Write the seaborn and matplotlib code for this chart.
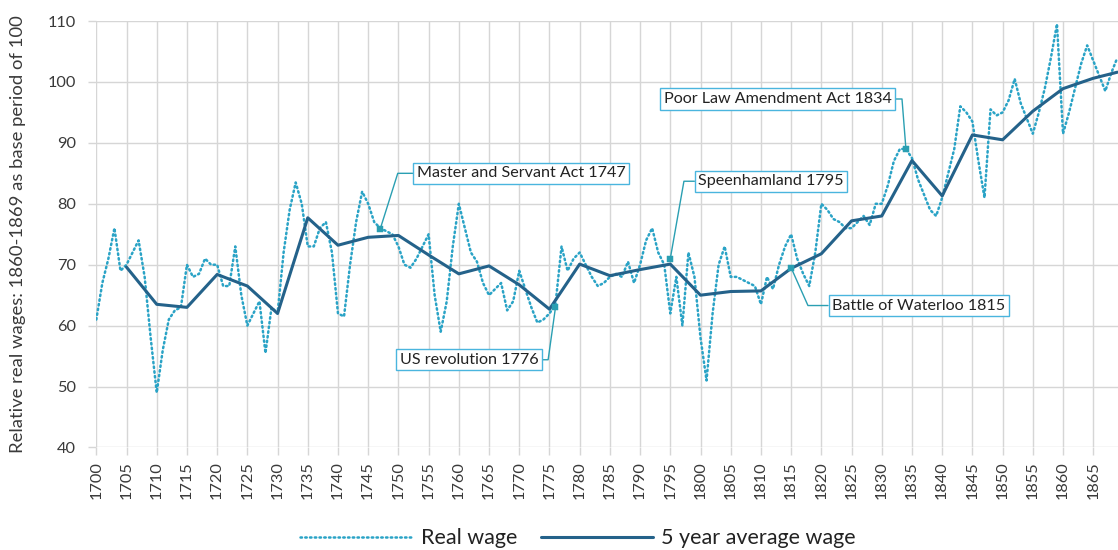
import matplotlib
matplotlib.use('Agg')
import matplotlib.pyplot as plt
import seaborn as sns
import pandas as pd

# annual real wage index, 1700-1869
years = list(range(1700, 1870))
real_wage = [
    61, 67, 71, 76, 69, 70, 72, 74, 68, 58,            # 1700s
    49, 56, 61, 62.5, 63, 70, 68, 68.5, 71, 70,        # 1710s
    70, 66.5, 66.5, 73, 65, 60, 62, 64, 55.5, 63,      # 1720s
    62, 72, 79, 83.5, 80, 73, 73, 76, 77, 72,          # 1730s
    62, 61.5, 70, 77, 82, 80, 77, 76, 75.5, 75,        # 1740s
    73, 70, 69.5, 71, 73, 75, 65, 59, 64, 73,          # 1750s
    80, 76, 72, 70.5, 67, 65, 66, 67, 62.5, 64,        # 1760s
    69, 66, 63, 60.5, 61, 62, 63.5, 73, 69, 71,        # 1770s
    72, 70, 68, 66.5, 67, 68, 68.5, 68, 70.5, 67,      # 1780s
    70, 74, 76, 72, 70, 62, 68, 60, 72, 68,            # 1790s
    58, 51, 62, 70, 73, 68, 68, 67.5, 67, 66.5,        # 1800s
    63.5, 68, 66, 70, 73, 75, 71, 68.5, 66.5, 72,      # 1810s
    80, 79, 77.5, 77, 76, 76, 77, 78, 76.5, 80,        # 1820s
    80, 83, 87, 89, 89, 87.5, 84, 81.5, 79, 78,        # 1830s
    81, 85, 89, 96, 95, 93.5, 87, 81, 95.5, 94.5,      # 1840s
    95, 97, 100.5, 96.5, 94, 91.5, 95, 99, 104, 109.5, # 1850s
    91.5, 95, 99, 103, 106, 103.5, 101, 98.5, 101.5, 104,  # 1860s
]

avg_years = list(range(1705, 1866, 5)) + [1869]
avg_wage = [
    69.6, 63.5, 63.0, 68.4, 66.5, 62.0, 77.7, 73.2, 74.5, 74.8,
    71.6, 68.5, 69.8, 66.7, 62.7, 70.1, 68.2, 69.2, 70.1, 65.0,
    65.6, 65.7, 69.4, 71.8, 77.2, 78.0, 87.1, 81.3, 91.3, 90.5,
    95.2, 98.9, 100.6, 101.6,
]

event_labels = ['Master and Servant Act 1747', 'US revolution 1776', 'Speenhamland 1795',
                'Battle of Waterloo 1815', 'Poor Law Amendment Act 1834']
event_years = [1747, 1776, 1795, 1815, 1834]
event_values = [75.9, 63.0, 71.0, 69.5, 89.0]

dot_col = '#2aa3c6'
avg_col = '#24628a'
lead_col = '#2a9fb2'
box_col = '#4ab5de'
grid_col = '#d6d6d6'

sns.set_theme(style='white')
plt.rcParams['font.family'] = ['Lato', 'DejaVu Sans']

fig = plt.figure(figsize=(11.18, 5.5), dpi=100)
ax = fig.add_axes([0.0856, 0.1864, 0.9144, 0.7754])

wage_df = pd.DataFrame({'year': years, 'wage': real_wage})
avg_df = pd.DataFrame({'year': avg_years, 'wage': avg_wage})

sns.lineplot(data=wage_df, x='year', y='wage', ax=ax, color=dot_col, linewidth=1.8,
             linestyle=(0, (0.6, 1.3)), dash_capstyle='round', label='Real wage', zorder=3)
sns.lineplot(data=avg_df, x='year', y='wage', ax=ax, color=avg_col, linewidth=2.2,
             label='5 year average wage', zorder=4)

ax.set_xlim(1699.9, 1869.1)
ax.set_ylim(40, 110)
ax.set_xticks(range(1700, 1866, 5))
ax.set_xticklabels([str(y) for y in range(1700, 1866, 5)], rotation=90)
ax.set_yticks(range(40, 111, 10))
ax.grid(True, color=grid_col, linewidth=1)
ax.set_axisbelow(True)
for s in ax.spines.values():
    s.set_visible(False)
ax.tick_params(axis='both', bottom=True, left=True, length=6, width=1, color=grid_col,
               labelsize=11.8, labelcolor='#3a3a3a')
ax.tick_params(axis='y', pad=8)
ax.tick_params(axis='x', pad=4)
ax.set_xlabel('')
ax.set_ylabel('Relative real wages: 1860-1869 as base period of 100', fontsize=13.3, color='#3a3a3a')
ax.yaxis.set_label_coords(-0.068, 0.5)

# event call-outs: (box centre x, box centre y, leader side, second-segment angle)
box_pos = [(1770.3, 85.0, 0, 72.5), (1761.7, 54.4, 1, 82), (1811.7, 83.7, 0, 80),
           (1836.1, 63.3, 0, -66), (1812.8, 97.2, 1, 94.5)]
sns.scatterplot(x=event_years, y=event_values, ax=ax, color=lead_col, marker='s', s=18,
                edgecolor=lead_col, zorder=6, legend=False)
for lab, ex, ev, (bx, by, side, ang) in zip(event_labels, event_years, event_values, box_pos):
    ax.annotate(lab, xy=(ex, ev), xytext=(bx, by), ha='center', va='center', fontsize=11.6,
                color='#222222', zorder=7,
                bbox=dict(boxstyle='square,pad=0.22', fc='white', ec=box_col, lw=1),
                arrowprops=dict(arrowstyle='-', color=lead_col, lw=1, shrinkA=0, shrinkB=0,
                                relpos=(side, 0.5),
                                connectionstyle=f'angle,angleA=0,angleB={ang},rad=0'))

ax.get_legend().remove()
handles, labels = ax.get_legend_handles_labels()
fig.legend(handles[:2], labels[:2], loc='center', bbox_to_anchor=(0.517, 0.021), ncol=2,
           frameon=False, fontsize=15.5, handlelength=5.2, handletextpad=0.4,
           columnspacing=1.1, labelcolor='#222222')

fig.savefig('out.png', dpi=100)
